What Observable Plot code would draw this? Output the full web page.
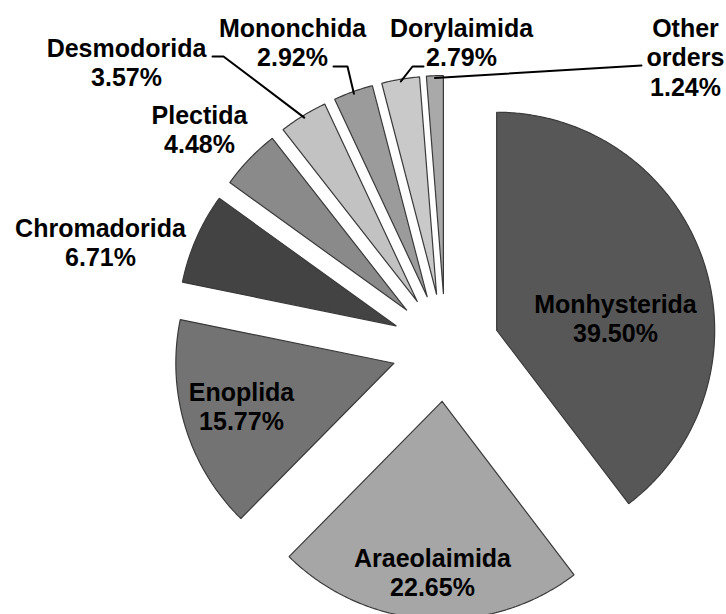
<!DOCTYPE html>
<html>
<head>
<meta charset="utf-8">
<script src="https://cdn.jsdelivr.net/npm/d3@7"></script>
<script src="https://cdn.jsdelivr.net/npm/@observablehq/plot@0.6"></script>
<style>
  html, body { margin: 0; padding: 0; background: #fff; }
  svg { display: block; }
</style>
</head>
<body>
<script>
// ---- data ----
const orders = ["Monhysterida", "Araeolaimida", "Enoplida", "Chromadorida", "Plectida", "Desmodorida", "Mononchida", "Dorylaimida", "Other orders"];
const percents = [39.50, 22.65, 15.77, 6.71, 4.48, 3.57, 2.92, 2.79, 1.24];
const percentLabels = ["39.50%", "22.65%", "15.77%", "6.71%", "4.48%", "3.57%", "2.92%", "2.79%", "1.24%"];
const fills = ["#575757", "#a6a6a6", "#737373", "#434343", "#8a8a8a", "#c2c2c2", "#9b9b9b", "#c9c9c9", "#a9a9a9"];

// ---- layout (not data) ----
const W = 726, H = 614;
const pie = {cx: 445, cy: 347, r: 218, explode: 54};
// label anchor: centre x, baseline of first line
const labelLayout = {
  "Monhysterida": [615, 312],
  "Araeolaimida": [432, 566],
  "Enoplida": [241, 400],
  "Chromadorida": [100, 236],
  "Plectida": [199, 123],
  "Desmodorida": [126, 56],
  "Mononchida": [292, 36],
  "Dorylaimida": [461, 36],
  "Other orders": [685, 36]
};
// leader lines: from text to slice (start, elbow)
const leaderLayout = {
  "Desmodorida": [[212, 56], [223, 56]],
  "Mononchida": [[333, 66], [347, 66]],
  "Dorylaimida": [[423, 66], [412, 66]],
  "Other orders": [[641, 65]]
};
const lineGap = 29.5;
const fontSize = 25;

// ---- geometry from d3.pie ----
const rows = orders.map((name, i) => ({name, value: percents[i], label: percentLabels[i], fill: fills[i]}));
const arcs = d3.pie().sort(null).value(d => d.value)(rows);

const slicePts = [];
const arcMid = {};
arcs.forEach(a => {
  const mid = (a.startAngle + a.endAngle) / 2;
  const ax = pie.cx + pie.explode * Math.sin(mid);
  const ay = pie.cy - pie.explode * Math.cos(mid);
  const name = a.data.name;
  slicePts.push({name, fill: a.data.fill, x: ax, y: ay});
  const n = Math.max(4, Math.ceil((a.endAngle - a.startAngle) * 180 / Math.PI * 2));
  for (let k = 0; k <= n; k++) {
    const t = a.startAngle + (a.endAngle - a.startAngle) * k / n;
    slicePts.push({name, fill: a.data.fill, x: ax + pie.r * Math.sin(t), y: ay - pie.r * Math.cos(t)});
  }
  slicePts.push({name, fill: a.data.fill, x: ax, y: ay});
  arcMid[name] = [ax + pie.r * 0.99 * Math.sin(mid), ay - pie.r * 0.99 * Math.cos(mid)];
});

// text rows
const textRows = [];
rows.forEach(d => {
  const [x, y0] = labelLayout[d.name];
  const lines = d.name === "Other orders" ? ["Other", "orders", d.label] : [d.name, d.label];
  lines.forEach((t, j) => textRows.push({x, y: y0 + j * lineGap - 0.32 * fontSize, t}));
});

// leader rows
const leaderRows = [];
Object.entries(leaderLayout).forEach(([name, pts]) => {
  pts.forEach(([x, y]) => leaderRows.push({name, x, y}));
  const [ex, ey] = arcMid[name];
  leaderRows.push({name, x: ex, y: ey});
});

const chart = Plot.plot({
  width: W,
  height: H,
  margin: 0,
  x: {domain: [0, W], range: [0, W], axis: null},
  y: {domain: [0, H], range: [0, H], axis: null},
  style: {background: "#fff"},
  marks: [
    Plot.line(slicePts, {x: "x", y: "y", z: "name", fill: "fill", stroke: "#3a3a3a", strokeWidth: 1.2, strokeLinejoin: "miter"}),
    Plot.line(leaderRows, {x: "x", y: "y", z: "name", stroke: "#000", strokeWidth: 2}),
    Plot.text(textRows, {
      x: "x", y: "y", text: "t",
      fontFamily: "Liberation Sans, Arial, sans-serif",
      fontWeight: "bold",
      fontSize: fontSize,
      fill: "#000",
      textAnchor: "middle",
      lineAnchor: "middle"
    })
  ]
});
document.body.appendChild(chart);
</script>
</body>
</html>
